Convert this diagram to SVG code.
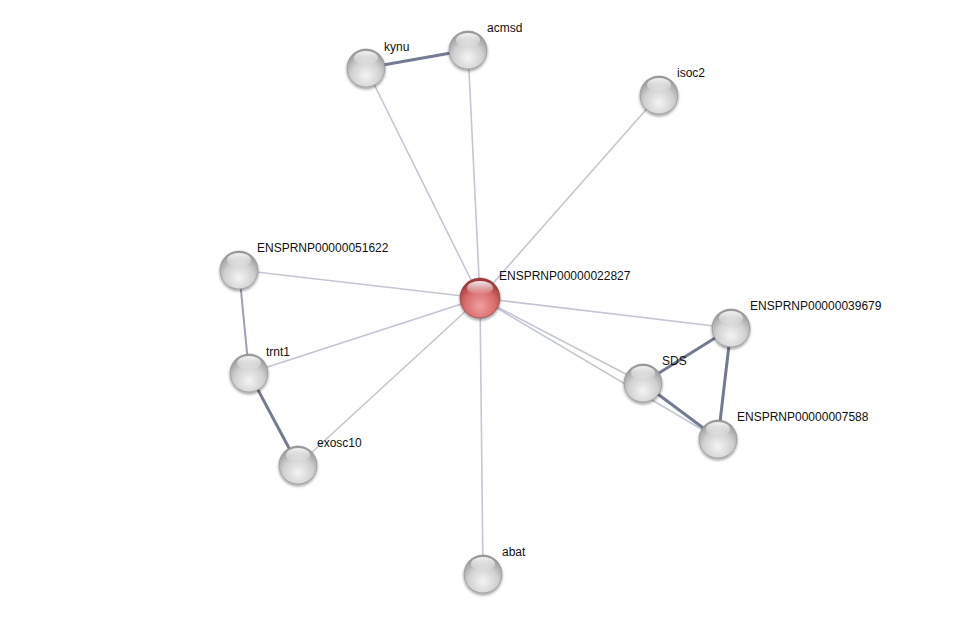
<svg xmlns="http://www.w3.org/2000/svg" width="975" height="620" viewBox="0 0 975 620">
<style>
.lbl{font-family:"Liberation Sans",Arial,sans-serif;font-size:12px;fill:#111}
.e1{stroke:#c4c6d4;stroke-width:1.6;fill:none}
.e2{stroke:#9aa0b4;stroke-width:2;fill:none}
.e3{stroke:#737b92;stroke-width:3;fill:none}
.g{fill:url(#gg);stroke:#8a8a8a;stroke-width:0.6}
.r{fill:url(#rg);stroke:#8a3a3a;stroke-width:0.6}
.hl{fill:url(#hl)}
</style>
<defs>
<radialGradient id="gg" cx="0.5" cy="0.7" r="0.65">
<stop offset="0" stop-color="#f4f4f4"/>
<stop offset="0.6" stop-color="#d0d0d0"/>
<stop offset="1" stop-color="#9a9a9a"/>
</radialGradient>
<radialGradient id="rg" cx="0.5" cy="0.7" r="0.65">
<stop offset="0" stop-color="#f0a0a0"/>
<stop offset="0.6" stop-color="#d86a6a"/>
<stop offset="1" stop-color="#a03838"/>
</radialGradient>
<linearGradient id="hl" x1="0" y1="0" x2="0" y2="1">
<stop offset="0" stop-color="#fff" stop-opacity="0.9"/>
<stop offset="1" stop-color="#fff" stop-opacity="0"/>
</linearGradient>
<filter id="sh" x="-30%" y="-30%" width="160%" height="160%">
<feGaussianBlur in="SourceAlpha" stdDeviation="1.5"/>
<feOffset dy="2"/>
<feComponentTransfer><feFuncA type="linear" slope="0.4"/></feComponentTransfer>
<feMerge><feMergeNode/><feMergeNode in="SourceGraphic"/></feMerge>
</filter>
</defs>
<rect width="975" height="620" fill="#fff"/>
<g id="edges">
<line class="e1" x1="480" y1="298" x2="366" y2="68"/>
<line class="e1" x1="480" y1="298" x2="468" y2="50"/>
<line class="e1" x1="480" y1="298" x2="659" y2="95"/>
<line class="e1" x1="480" y1="298" x2="239" y2="270"/>
<line class="e1" x1="480" y1="298" x2="249" y2="373"/>
<line class="e1" x1="480" y1="298" x2="298" y2="465"/>
<line class="e1" x1="480" y1="298" x2="483" y2="574"/>
<line class="e1" x1="480" y1="298" x2="731" y2="328"/>
<line class="e1" x1="480" y1="298" x2="643" y2="383"/>
<line class="e1" x1="480" y1="298" x2="718" y2="439"/>
<line class="e3" x1="366" y1="68" x2="468" y2="50"/>
<line class="e2" x1="239" y1="270" x2="249" y2="373"/>
<line class="e3" x1="249" y1="373" x2="298" y2="465"/>
<line class="e3" x1="643" y1="383" x2="731" y2="328"/>
<line class="e3" x1="643" y1="383" x2="718" y2="439"/>
<line class="e3" x1="731" y1="328" x2="718" y2="439"/>
</g>
<g id="n-kynu"><g filter="url(#sh)"><circle class="g" cx="366" cy="68" r="19"/><ellipse class="hl" cx="366" cy="58" rx="12" ry="7"/></g><text class="lbl" x="384" y="51">kynu</text></g>
<g id="n-acmsd"><g filter="url(#sh)"><circle class="g" cx="468" cy="50" r="19"/><ellipse class="hl" cx="468" cy="40" rx="12" ry="7"/></g><text class="lbl" x="487" y="32">acmsd</text></g>
<g id="n-isoc2"><g filter="url(#sh)"><circle class="g" cx="659" cy="95" r="19"/><ellipse class="hl" cx="659" cy="85" rx="12" ry="7"/></g><text class="lbl" x="677" y="77">isoc2</text></g>
<g id="n-51622"><g filter="url(#sh)"><circle class="g" cx="239" cy="270" r="19"/><ellipse class="hl" cx="239" cy="260" rx="12" ry="7"/></g><text class="lbl" x="257" y="252">ENSPRNP00000051622</text></g>
<g id="n-22827"><g filter="url(#sh)"><circle class="r" cx="480" cy="298" r="20"/><ellipse class="hl" cx="480" cy="288" rx="13" ry="7"/></g><text class="lbl" x="499" y="280">ENSPRNP00000022827</text></g>
<g id="n-39679"><g filter="url(#sh)"><circle class="g" cx="731" cy="328" r="19"/><ellipse class="hl" cx="731" cy="318" rx="12" ry="7"/></g><text class="lbl" x="750" y="310">ENSPRNP00000039679</text></g>
<g id="n-SDS"><g filter="url(#sh)"><circle class="g" cx="643" cy="383" r="19"/><ellipse class="hl" cx="643" cy="373" rx="12" ry="7"/></g><text class="lbl" x="662" y="365">SDS</text></g>
<g id="n-7588"><g filter="url(#sh)"><circle class="g" cx="718" cy="439" r="19"/><ellipse class="hl" cx="718" cy="429" rx="12" ry="7"/></g><text class="lbl" x="737" y="421">ENSPRNP00000007588</text></g>
<g id="n-trnt1"><g filter="url(#sh)"><circle class="g" cx="249" cy="373" r="19"/><ellipse class="hl" cx="249" cy="363" rx="12" ry="7"/></g><text class="lbl" x="266" y="356">trnt1</text></g>
<g id="n-exosc10"><g filter="url(#sh)"><circle class="g" cx="298" cy="465" r="19"/><ellipse class="hl" cx="298" cy="455" rx="12" ry="7"/></g><text class="lbl" x="317" y="447">exosc10</text></g>
<g id="n-abat"><g filter="url(#sh)"><circle class="g" cx="483" cy="574" r="19"/><ellipse class="hl" cx="483" cy="564" rx="12" ry="7"/></g><text class="lbl" x="502" y="556">abat</text></g>
</svg>
